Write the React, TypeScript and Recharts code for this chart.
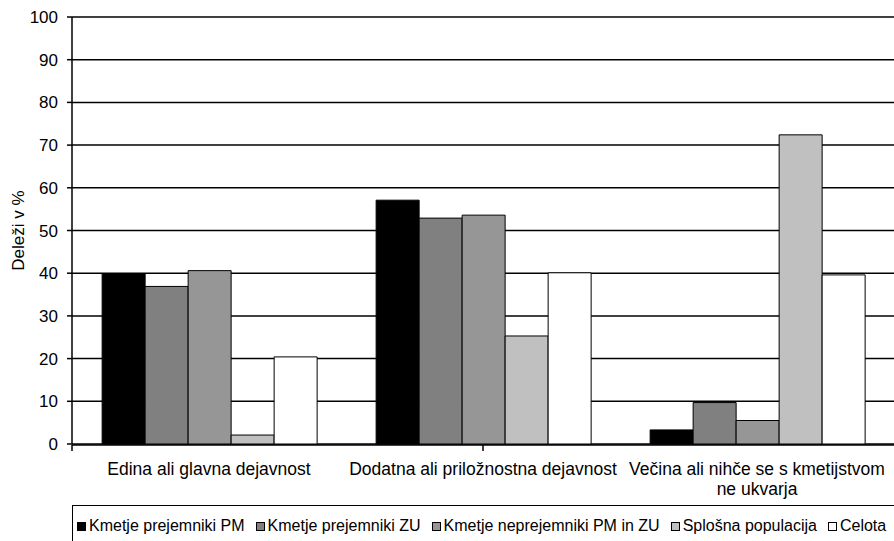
import { Bar, BarChart, CartesianGrid, Legend, XAxis, YAxis } from "recharts";

const categories = [
  "Edina ali glavna dejavnost",
  "Dodatna ali priložnostna dejavnost",
  "Večina ali nihče se s kmetijstvom ne ukvarja",
];

const seriesNames = [
  "Kmetje prejemniki PM",
  "Kmetje prejemniki ZU",
  "Kmetje neprejemniki PM in ZU",
  "Splošna populacija",
  "Celota",
];

const prejemnikiPM = [39.9, 57.1, 3.3];
const prejemnikiZU = [36.9, 52.9, 9.7];
const neprejemniki = [40.6, 53.6, 5.5];
const splosna = [2.1, 25.3, 72.4];
const celota = [20.4, 40.1, 39.6];

const yTicks = [0, 10, 20, 30, 40, 50, 60, 70, 80, 90, 100];
const edgeTicks = [0, 1, 2, 3];

const FONT = "'Liberation Sans', Arial, sans-serif";
const colors = ["#000000", "#808080", "#969696", "#c0c0c0", "#ffffff"];
const keys = ["pm", "zu", "nep", "spl", "cel"];

const data = categories.map((name, i) => ({
  name,
  pm: prejemnikiPM[i],
  zu: prejemnikiZU[i],
  nep: neprejemniki[i],
  spl: splosna[i],
  cel: celota[i],
}));

// break long labels into lines of max 34 chars
function wrap(label: string, max = 34): string[] {
  const lines: string[] = [];
  let cur = "";
  for (const w of label.split(" ")) {
    const next = cur ? cur + " " + w : w;
    if (next.length > max && cur) {
      lines.push(cur);
      cur = w;
    } else cur = next;
  }
  if (cur) lines.push(cur);
  return lines;
}

function CategoryTick(props: any) {
  const { x, payload } = props;
  const lines = wrap(String(payload.value));
  return (
    <text textAnchor="middle" fontFamily={FONT} fontSize={17.5} fill="#000">
      {lines.map((l, i) => (
        <tspan key={i} x={x} y={475 + i * 20}>
          {l}
        </tspan>
      ))}
    </text>
  );
}

function YLabel(props: any) {
  const vb = props.viewBox || { y: 17, height: 427 };
  const cy = vb.y + vb.height / 2;
  return (
    <text
      x={24}
      y={cy}
      transform={`rotate(-90 24 ${cy})`}
      textAnchor="middle"
      fontFamily={FONT}
      fontSize={17}
      fill="#000"
    >
      Deleži v %
    </text>
  );
}

function LegendBox() {
  return (
    <div
      style={{
        border: "1px solid #000",
        height: 44,
        boxSizing: "border-box",
        display: "flex",
        alignItems: "center",
        paddingLeft: 4,
        paddingBottom: 2,
        fontFamily: FONT,
        fontSize: 16,
        color: "#000",
        whiteSpace: "nowrap",
      }}
    >
      {seriesNames.map((n, i) => (
        <span key={n} style={{ display: "flex", alignItems: "center", marginRight: 11 }}>
          <span
            style={{
              display: "inline-block",
              width: 9,
              height: 9,
              background: colors[i],
              border: "1px solid #000",
              boxSizing: "border-box",
              marginRight: 3,
            }}
          />
          {n}
        </span>
      ))}
    </div>
  );
}

export default function App() {
  return (
    <div style={{ position: "absolute", left: 0, top: 0, background: "#fff" }}>
      <BarChart
        width={894}
        height={541}
        data={data}
        margin={{ top: 17, right: 0, left: 0, bottom: 95 }}
        barCategoryGap="11%"
        barGap={0}
      >
        <CartesianGrid xAxisId="cat" vertical={false} stroke="#000" strokeWidth={1.5} />
        <XAxis
          xAxisId="cat"
          dataKey="name"
          height={1}
          axisLine={false}
          tickLine={false}
          interval={0}
          tick={<CategoryTick />}
        />
        <XAxis
          xAxisId="edges"
          type="number"
          domain={[0, 3]}
          ticks={edgeTicks}
          height={1}
          stroke="#000"
          strokeWidth={1.5}
          tickSize={6}
          tickFormatter={() => ""}
        />
        <YAxis
          domain={[0, 100]}
          ticks={yTicks}
          width={72}
          stroke="#000"
          strokeWidth={1.5}
          tickSize={5}
          tickMargin={9}
          tick={{ fill: "#000", fontSize: 17, fontFamily: FONT }}
          label={<YLabel />}
        />
        <Legend
          verticalAlign="middle"
          wrapperStyle={{ position: "absolute", left: 72, top: 505, width: 840 }}
          content={() => <LegendBox />}
        />
        {keys.map((k, i) => (
          <Bar
            key={k}
            xAxisId="cat"
            dataKey={k}
            name={seriesNames[i]}
            fill={colors[i]}
            stroke="#000"
            strokeWidth={1}
            isAnimationActive={false}
          />
        ))}
      </BarChart>
    </div>
  );
}
